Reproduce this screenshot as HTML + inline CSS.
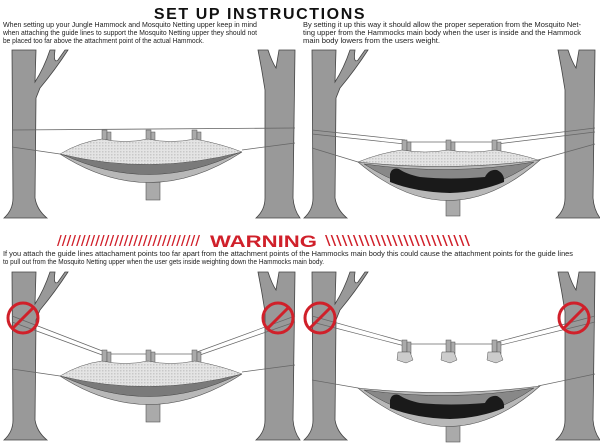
<!DOCTYPE html>
<html><head><meta charset="utf-8"><style>
html,body{margin:0;padding:0;background:#fff;width:600px;height:444px;overflow:hidden}
svg{display:block}
.t{font-family:"Liberation Sans",sans-serif;font-size:7.3px;fill:#222}
</style></head><body>
<svg width="600" height="444" viewBox="0 0 600 444" xmlns="http://www.w3.org/2000/svg">
<defs>
<pattern id="mesh" width="3" height="3" patternUnits="userSpaceOnUse">
<rect width="3" height="3" fill="#e4e4e4"/><rect width="1.5" height="1.5" fill="#c8c8c8"/>
</pattern>
<g id="trees">
<path d="M12,0 H36 L35,32 Q44,18 50,0 H55 Q53,14 58,10 L65,0 H68 Q55,20 40,38 L36,48 L35,148 Q37,160 47,168 H4 Q13,160 13,148 Z" fill="#999" stroke="#444" stroke-width="0.8"/>
<path d="M258,0 H268 Q272,12 276,18 L279,0 H295 L293,148 Q294,160 300,168 H256 Q265,160 265,148 L265,40 Q262,20 258,0 Z" fill="#999" stroke="#444" stroke-width="0.8"/>
</g>
<g id="clips">
<rect x="102" y="0" width="5" height="12" fill="#aaa" stroke="#555" stroke-width="0.5"/>
<rect x="107" y="2" width="4" height="12" fill="#aaa" stroke="#555" stroke-width="0.5"/>
<rect x="146" y="0" width="5" height="12" fill="#aaa" stroke="#555" stroke-width="0.5"/>
<rect x="151" y="2" width="4" height="12" fill="#aaa" stroke="#555" stroke-width="0.5"/>
<rect x="192" y="0" width="5" height="12" fill="#aaa" stroke="#555" stroke-width="0.5"/>
<rect x="197" y="2" width="4" height="12" fill="#aaa" stroke="#555" stroke-width="0.5"/>
</g>
<g id="ham1">
<rect x="146" y="22" width="14" height="24" fill="#aaa" stroke="#555" stroke-width="0.6"/>
<path d="M60,0 Q150,58 242,-2 Q150,30 60,0 Z" fill="#b8b8b8" stroke="#555" stroke-width="0.6"/>
<path d="M62,0 Q150,42 240,-2 Q150,22 62,0 Z" fill="#7a7a7a" stroke="#444" stroke-width="0.5"/>
<path d="M60,0 Q80,-12 102,-15 Q125,-10 148,-15 Q170,-10 195,-15 Q222,-10 242,-2 Q150,22 60,0 Z" fill="url(#mesh)" stroke="#555" stroke-width="0.5"/>
</g>
<g id="ham2">
<rect x="146" y="30" width="14" height="24" fill="#aaa" stroke="#555" stroke-width="0.6"/>
<path d="M58,0 Q150,78 240,-2 Q150,10 58,0 Z" fill="#b8b8b8" stroke="#555" stroke-width="0.6"/>
<path d="M64,2 Q150,58 234,0 Q150,14 64,2 Z" fill="#888" stroke="#444" stroke-width="0.5"/>
<path d="M90,12 Q92,5 99,7 Q106,12 120,15 Q150,18 185,15 Q189,7 197,8 Q205,12 204,20 Q180,30 150,31 Q115,30 90,20 Z" fill="#1a1a1a"/>
</g>
</defs>

<text x="260" y="19" text-anchor="middle" font-family="Liberation Sans,sans-serif" font-weight="bold" font-size="16" letter-spacing="1.6" fill="#111">SET UP INSTRUCTIONS</text>
<text class="t" x="3" y="27" textLength="254" lengthAdjust="spacingAndGlyphs">When setting up your Jungle Hammock and Mosquito Netting upper keep in mind</text>
<text class="t" x="3" y="35" textLength="254" lengthAdjust="spacingAndGlyphs">when attaching the guide lines to support the Mosquito Netting upper they should not</text>
<text class="t" x="3" y="43" textLength="201" lengthAdjust="spacingAndGlyphs">be placed too far above the attachment point of the actual Hammock.</text>
<text class="t" x="303" y="27" textLength="278" lengthAdjust="spacingAndGlyphs">By setting it up this way it should allow the proper seperation from the Mosquito Net-</text>
<text class="t" x="303" y="35" textLength="278" lengthAdjust="spacingAndGlyphs">ting upper from the Hammocks main body when the user is inside and the Hammock</text>
<text class="t" x="303" y="43" textLength="137" lengthAdjust="spacingAndGlyphs">main body lowers from the users weight.</text>

<!-- panel 1 -->
<g transform="translate(0,50)">
<use href="#trees"/>
<line x1="12" y1="80" x2="295" y2="78" stroke="#666" stroke-width="0.8"/>
<line x1="12" y1="97" x2="60" y2="104" stroke="#666" stroke-width="0.7"/>
<line x1="242" y1="100" x2="295" y2="93" stroke="#666" stroke-width="0.7"/>
<use href="#clips" transform="translate(0,80)"/>
<use href="#ham1" transform="translate(0,104)"/>
</g>
<!-- panel 2 -->
<g transform="translate(300,50)">
<use href="#trees"/>
<line x1="12" y1="80" x2="105" y2="90" stroke="#666" stroke-width="0.7"/>
<line x1="12" y1="84" x2="105" y2="94" stroke="#666" stroke-width="0.7"/>
<line x1="105" y1="92" x2="197" y2="92" stroke="#666" stroke-width="0.7"/>
<line x1="197" y1="90" x2="295" y2="78" stroke="#666" stroke-width="0.7"/>
<line x1="197" y1="94" x2="295" y2="82" stroke="#666" stroke-width="0.7"/>
<line x1="12" y1="98" x2="58" y2="112" stroke="#666" stroke-width="0.7"/>
<line x1="238" y1="110" x2="295" y2="94" stroke="#666" stroke-width="0.7"/>
<use href="#clips" transform="translate(0,90)"/>
<path d="M58,112 Q80,103 102,100 Q125,104 148,100 Q170,104 195,100 Q220,104 238,110 L230,116 Q150,124 70,116 Z" fill="url(#mesh)" stroke="#555" stroke-width="0.5"/>
<use href="#ham2" transform="translate(0,112)"/>
</g>

<text x="210" y="247" textLength="107" lengthAdjust="spacingAndGlyphs" font-family="Liberation Sans,sans-serif" font-weight="bold" font-size="17" fill="#d0202a">WARNING</text>
<text x="57" y="246" textLength="143" lengthAdjust="spacingAndGlyphs" font-family="Liberation Sans,sans-serif" font-size="15" fill="#d0202a">//////////////////////////////</text>
<text x="325" y="246" textLength="145" lengthAdjust="spacingAndGlyphs" font-family="Liberation Sans,sans-serif" font-size="15" fill="#d0202a">\\\\\\\\\\\\\\\\\\\\\\\\\\</text>
<text class="t" x="3" y="256" textLength="570" lengthAdjust="spacingAndGlyphs">If you attach the guide lines attachament points too far apart from the attachment points of the Hammocks main body this could cause the attachment points for the guide lines</text>
<text class="t" x="3" y="264" textLength="321" lengthAdjust="spacingAndGlyphs">to pull out from the Mosquito Netting upper when the user gets inside weighting down the Hammocks main body.</text>

<!-- panel 3 -->
<g transform="translate(0,272)">
<use href="#trees"/>
<line x1="12" y1="44" x2="105" y2="80" stroke="#666" stroke-width="0.7"/>
<line x1="12" y1="50" x2="105" y2="84" stroke="#666" stroke-width="0.7"/>
<line x1="105" y1="82" x2="197" y2="82" stroke="#666" stroke-width="0.7"/>
<line x1="197" y1="80" x2="295" y2="44" stroke="#666" stroke-width="0.7"/>
<line x1="197" y1="84" x2="295" y2="50" stroke="#666" stroke-width="0.7"/>
<line x1="12" y1="97" x2="60" y2="104" stroke="#666" stroke-width="0.7"/>
<line x1="242" y1="100" x2="295" y2="93" stroke="#666" stroke-width="0.7"/>
<use href="#clips" transform="translate(0,78)"/>
<use href="#ham1" transform="translate(0,104)"/>
<circle cx="23" cy="46" r="15" fill="none" stroke="#d0202a" stroke-width="3"/>
<line x1="12" y1="57" x2="34" y2="35" stroke="#d0202a" stroke-width="3"/>
<circle cx="278" cy="46" r="15" fill="none" stroke="#d0202a" stroke-width="3"/>
<line x1="267" y1="57" x2="289" y2="35" stroke="#d0202a" stroke-width="3"/>
</g>
<!-- panel 4 -->
<g transform="translate(300,272)">
<use href="#trees"/>
<line x1="12" y1="44" x2="105" y2="70" stroke="#666" stroke-width="0.7"/>
<line x1="12" y1="50" x2="105" y2="74" stroke="#666" stroke-width="0.7"/>
<line x1="105" y1="72" x2="197" y2="72" stroke="#666" stroke-width="0.7"/>
<line x1="197" y1="70" x2="295" y2="44" stroke="#666" stroke-width="0.7"/>
<line x1="197" y1="74" x2="295" y2="50" stroke="#666" stroke-width="0.7"/>
<use href="#clips" transform="translate(0,68)"/>
<path d="M98,80 l12,0 l3,8 l-7,3 l-9,-3 Z M142,80 l12,0 l3,8 l-7,3 l-9,-3 Z M188,80 l12,0 l3,8 l-7,3 l-9,-3 Z" fill="#ccc" stroke="#555" stroke-width="0.5"/>
<line x1="12" y1="108" x2="58" y2="116" stroke="#666" stroke-width="0.7"/>
<line x1="238" y1="114" x2="295" y2="102" stroke="#666" stroke-width="0.7"/>
<use href="#ham2" transform="translate(0,116)"/>
<circle cx="20" cy="46" r="15" fill="none" stroke="#d0202a" stroke-width="3"/>
<line x1="9" y1="57" x2="31" y2="35" stroke="#d0202a" stroke-width="3"/>
<circle cx="274" cy="46" r="15" fill="none" stroke="#d0202a" stroke-width="3"/>
<line x1="263" y1="57" x2="285" y2="35" stroke="#d0202a" stroke-width="3"/>
</g>
</svg>
</body></html>
